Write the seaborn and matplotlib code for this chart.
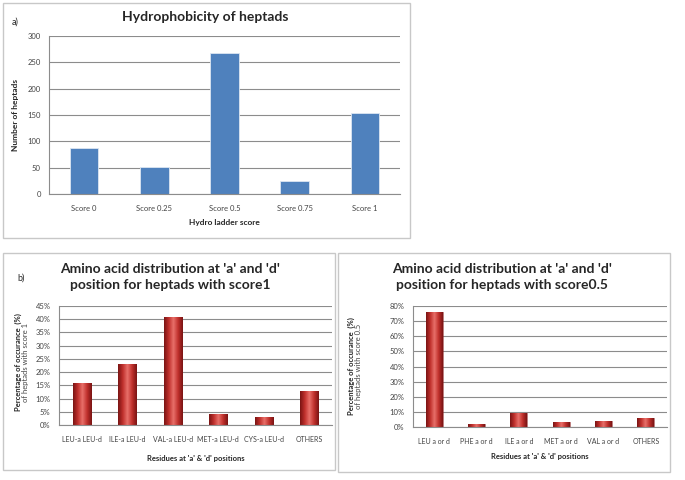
import numpy as np
import pandas as pd
import matplotlib
matplotlib.use('Agg')
import matplotlib.pyplot as plt
from matplotlib.patches import Rectangle
from matplotlib.colors import LinearSegmentedColormap
from matplotlib.ticker import PercentFormatter
import seaborn as sns

# Data
hydro_scores = ['Score 0', 'Score 0.25', 'Score 0.5', 'Score 0.75', 'Score 1']
hydro_counts = [87, 51, 267, 24, 154]

score1_residues = ['LEU-a LEU-d', 'ILE-a LEU-d', 'VAL-a LEU-d', 'MET-a LEU-d', 'CYS-a LEU-d', 'OTHERS']
score1_pct = [16, 23, 41, 4, 3, 13]

score05_residues = ['LEU a or d', 'PHE a or d', 'ILE a or d', 'MET a or d', 'VAL a or d', 'OTHERS']
score05_pct = [76, 2, 9, 3, 4, 6]

sns.set_style('white')
plt.rcParams['font.family'] = ['Lato', 'DejaVu Sans']

W, H = 685, 480
fig = plt.figure(figsize=(W / 100, H / 100), dpi=100)


def px_axes(x0, y0, x1, y1):
    # pixel box (top-left origin) -> figure axes
    return fig.add_axes([x0 / W, 1 - y1 / H, (x1 - x0) / W, (y1 - y0) / H])


def px_box(x0, y0, x1, y1):
    fig.patches.append(Rectangle((x0 / W, 1 - y1 / H), (x1 - x0) / W, (y1 - y0) / H,
                                 transform=fig.transFigure, fill=False,
                                 edgecolor='#c8c8c8', linewidth=1.0))


def px_text(x, y, s, **kw):
    fig.text(x / W, 1 - y / H, s, **kw)


def style_axes(ax, xsize=5.5):
    ax.grid(axis='y', color='#8c8c8c', linewidth=0.8)
    ax.set_axisbelow(True)
    for side in ['top', 'right']:
        ax.spines[side].set_visible(False)
    for side in ['left', 'bottom']:
        ax.spines[side].set_color('#8c8c8c')
        ax.spines[side].set_linewidth(0.8)
    ax.tick_params(axis='both', labelsize=5.5, colors='#444444', length=3, width=0.6,
                   direction='out', pad=3)
    ax.tick_params(axis='x', length=0, pad=8, labelsize=xsize)
    ax.set_xlabel('')
    ax.set_ylabel('')


# panel boxes
px_box(3, 3, 410, 238)
px_box(3, 253, 335, 470)
px_box(338, 253, 670, 472)

# a) hydrophobicity
ax1 = px_axes(49, 36, 400, 194)
sns.barplot(x=hydro_scores, y=hydro_counts, color='#4f81bd', width=0.41,
            saturation=1, ax=ax1, edgecolor='#dce6f2', linewidth=0.6)
ax1.set_ylim(0, 300)
ax1.set_yticks(range(0, 301, 50))
style_axes(ax1)
px_text(205, 17, 'Hydrophobicity of heptads', ha='center', va='center',
        fontsize=10, fontweight='bold')
px_text(12, 22, 'a)', ha='left', va='center', fontsize=6.5)
px_text(224, 223, 'Hydro ladder score', ha='center', va='center', fontsize=6, fontweight='bold')
px_text(16, 115, 'Number of heptads', ha='center', va='center', rotation=90,
        fontsize=6, fontweight='bold')

red_cmap = LinearSegmentedColormap.from_list(
    'cyl', ['#7a1414', '#c0302c', '#e8706a', '#c0302c', '#7a1414'])


def cylinder_bars(ax):
    xl, yl = ax.get_xlim(), ax.get_ylim()
    grad = np.linspace(0, 1, 64).reshape(1, -1)
    for p in list(ax.patches):
        x, y = p.get_x(), p.get_y()
        w, h = p.get_width(), p.get_height()
        p.set_facecolor('none')
        p.set_edgecolor('#8a1c1c')
        p.set_linewidth(0.4)
        im = ax.imshow(grad, cmap=red_cmap, extent=[x, x + w, y, y + h],
                       aspect='auto', zorder=2, origin='lower')
        im.set_clip_path(p)
    ax.set_xlim(xl)
    ax.set_ylim(yl)


def residue_panel(box, names, vals, ymax, step, title_tail, title_x, title_y, xlab_y):
    ax = px_axes(*box)
    sns.barplot(x=names, y=vals, color='#c0302c', width=0.4, saturation=1, ax=ax)
    ax.set_xlim(-0.5, len(names) - 0.5)
    ax.set_ylim(0, ymax)
    ax.set_yticks(range(0, ymax + 1, step))
    ax.yaxis.set_major_formatter(PercentFormatter(decimals=0))
    style_axes(ax, xsize=5)
    cylinder_bars(ax)
    px_text(title_x, title_y, "Amino acid distribution at 'a' and 'd'\nposition for heptads with " + title_tail,
            ha='center', va='center', fontsize=10, fontweight='bold', linespacing=1.4)
    cx = (box[0] + box[2]) / 2
    px_text(cx, xlab_y, "Residues at 'a' & 'd' positions", ha='center', va='center',
            fontsize=5.5, fontweight='bold')
    return ax


ax2 = residue_panel((59, 306, 332, 425), score1_residues, score1_pct, 45, 5,
                    'score1', 170, 277, 458)
px_text(17, 278, 'b)', ha='left', va='center', fontsize=6.5)
px_text(18, 362, 'Percentage of occurance  (%)', ha='center', va='center', rotation=90,
        fontsize=5.5, fontweight='bold')
px_text(26, 362, 'of heptads with score 1', ha='center', va='center', rotation=90,
        fontsize=5.5, color='#444444')

ax3 = residue_panel((413, 306, 667, 427), score05_residues, score05_pct, 80, 10,
                    'score0.5', 502, 277, 456)
px_text(351, 366, 'Percentage of occurance  (%)', ha='center', va='center', rotation=90,
        fontsize=5.5, fontweight='bold')
px_text(359, 366, 'of heptads with score 0.5', ha='center', va='center', rotation=90,
        fontsize=5.5, color='#444444')

fig.savefig('out.png', dpi=100)
